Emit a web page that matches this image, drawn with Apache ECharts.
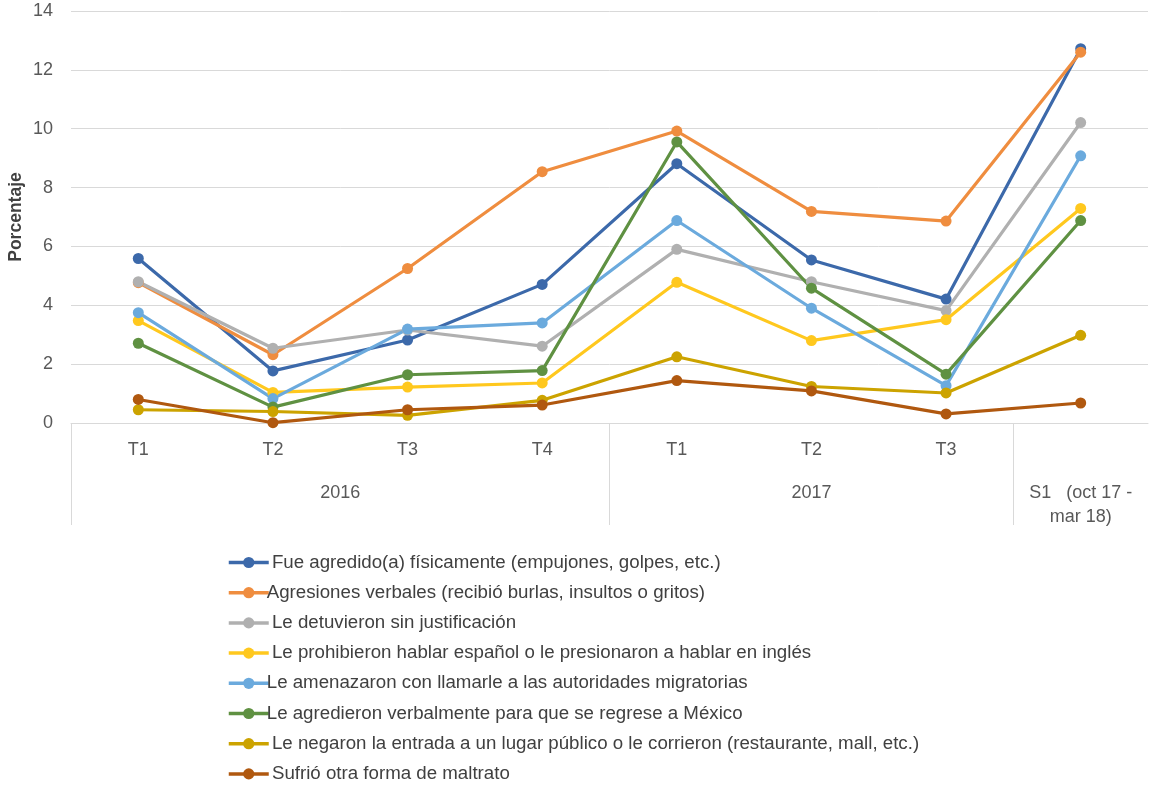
<!DOCTYPE html>
<html><head><meta charset="utf-8">
<script src="https://cdn.jsdelivr.net/npm/echarts@6/dist/echarts.min.js"></script>
<style>html,body{margin:0;padding:0;background:#fff}#c{width:1151px;height:785px}</style>
</head><body><div id="c"></div>
<script>
const periods = ['T1','T2','T3','T4','T1','T2','T3',''];
const groupSlots = ['', '', '', '', '2016', '', '', '', '', '', '', '2017', '', '', '', 'S1   (oct 17 -\nmar 18)', ''];
const groupBoundaries = [0, 8, 14];
const seriesNames = [
  ' Fue agredido(a) físicamente (empujones, golpes, etc.)',
  'Agresiones verbales (recibió burlas, insultos o gritos)',
  ' Le detuvieron sin justificación',
  ' Le prohibieron hablar español o le presionaron a hablar en inglés',
  'Le amenazaron con llamarle a las autoridades migratorias',
  'Le agredieron verbalmente para que se regrese a México',
  ' Le negaron la entrada a un lugar público o le corrieron (restaurante, mall, etc.)',
  ' Sufrió otra forma de maltrato'
];
const fisica      = [5.59, 1.77, 2.82, 4.71, 8.81, 5.54, 4.21, 12.72];
const verbales    = [4.77, 2.32, 5.25, 8.54, 9.92, 7.19, 6.86, 12.60];
const detuvieron  = [4.80, 2.54, 3.16, 2.61, 5.90, 4.80, 3.82, 10.21];
const prohibieron = [3.48, 1.04, 1.22, 1.36, 4.78, 2.80, 3.51, 7.29];
const amenazaron  = [3.75, 0.83, 3.19, 3.40, 6.88, 3.90, 1.27, 9.08];
const regrese     = [2.71, 0.54, 1.64, 1.78, 9.55, 4.58, 1.66, 6.88];
const negaron     = [0.45, 0.39, 0.26, 0.77, 2.25, 1.24, 1.02, 2.98];
const otra        = [0.80, 0.01, 0.45, 0.61, 1.44, 1.09, 0.31, 0.68];
const allValues = [fisica, verbales, detuvieron, prohibieron, amenazaron, regrese, negaron, otra];
const colors = ['#3C69AA','#EF8D3F','#B0B0B0','#FFC81E','#6BAADD','#5F9142','#CCA300','#B0580F'];

const chart = echarts.init(document.getElementById('c'));
chart.setOption({
  animation: false,
  backgroundColor: '#fff',
  textStyle: {fontFamily: 'Liberation Sans'},
  grid: {left: 71, right: 3, top: 11, bottom: 362, outerBoundsMode: 'none', containLabel: false},
  legend: {
    orient: 'vertical', left: 222, top: 548, height: 236,
    itemWidth: 40, itemHeight: 14, itemGap: 11.2,
    lineStyle: {width: 3.5},
    textStyle: {fontSize: 18.7, color: '#404040', fontFamily: 'Liberation Sans', padding: [0,0,0,-7]},
    data: seriesNames
  },
  xAxis: [
    {
      type: 'category', data: periods, boundaryGap: true, position: 'bottom',
      axisLine: {lineStyle: {color: '#d9d9d9', width: 1}},
      axisTick: {show: false},
      axisLabel: {color: '#595959', fontSize: 18, margin: 18, interval: 0}
    },
    {
      type: 'category', data: groupSlots, boundaryGap: false, position: 'bottom',
      axisLine: {show: false},
      axisTick: {show: true, length: 102, lineStyle: {color: '#d9d9d9'},
        interval: function (i) { return groupBoundaries.indexOf(i) >= 0; }},
      axisLabel: {color: '#595959', fontSize: 18, margin: 58, interval: 0, lineHeight: 24, align: 'center'}
    }
  ],
  yAxis: {
    type: 'value', min: 0, max: 14, interval: 2,
    name: 'Porcentaje', nameLocation: 'middle', nameGap: 45.5, nameRotate: 90,
    nameMoveOverlap: false,
    nameTextStyle: {color: '#404040', fontSize: 17.5, fontWeight: 'bold'},
    axisLine: {show: false}, axisTick: {show: false},
    axisLabel: {color: '#595959', fontSize: 18, margin: 18},
    splitLine: {lineStyle: {color: '#d9d9d9', width: 1}}
  },
  series: allValues.map((vals, i) => ({
    name: seriesNames[i], type: 'line', data: vals, xAxisIndex: 0,
    symbol: 'circle', symbolSize: 11,
    lineStyle: {width: 3.2, color: colors[i]},
    itemStyle: {color: colors[i]},
    emphasis: {disabled: true}
  }))
});
</script></body></html>
